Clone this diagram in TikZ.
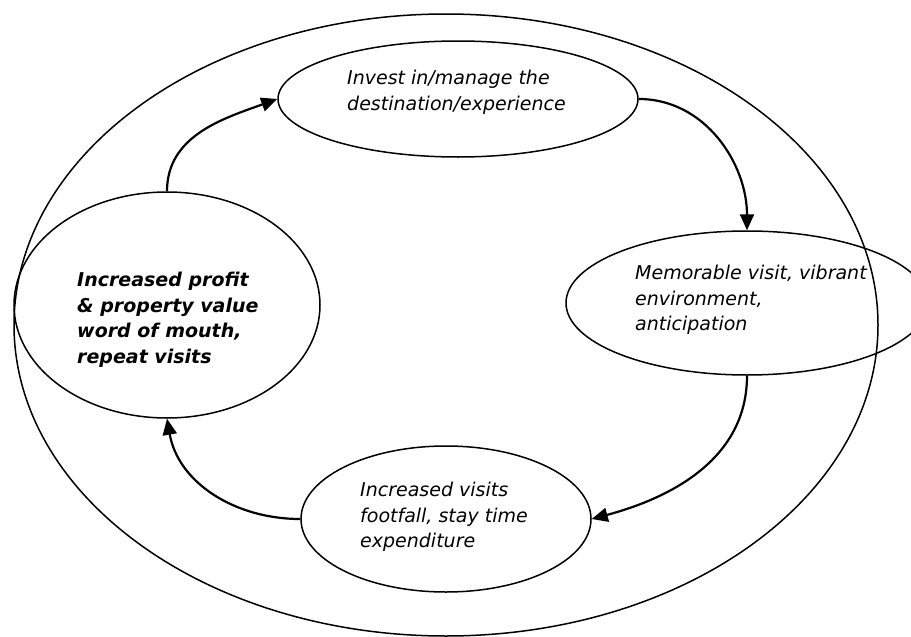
\documentclass[tikz,border=0pt]{standalone}
\usepackage{fontspec}
\setmainfont{DejaVu Sans}
\usetikzlibrary{shapes.geometric,arrows.meta}
\begin{document}
\begin{tikzpicture}[x=1pt,y=-1pt,
  ring/.style={ellipse,draw,line width=1.5pt,inner sep=0pt},
  label/.style={anchor=north west,inner sep=0pt,align=left,
    font=\fontsize{19}{25.5}\selectfont\itshape},
  flow/.style={line width=2.2pt,-{Triangle[length=16pt,width=14pt]}}]
  \useasboundingbox (0,0) rectangle (911,637);
  \clip (0,0) rectangle (911,637);
  % outer boundary
  \node[ring,minimum width=864pt,minimum height=622pt] (O) at (446,325) {};
  % the four stages of the cycle
  \node[ring,minimum width=360pt,minimum height=116pt] (T) at (458,99) {};
  \node[ring,minimum width=362pt,minimum height=144pt] (R) at (747,303) {};
  \node[ring,minimum width=290pt,minimum height=146pt] (B) at (446,519) {};
  \node[ring,minimum width=306pt,minimum height=226pt] (L) at (167,305) {};
  % texts
  \node[label] (tT) at (347,70) {Invest in/manage the\\destination/experience};
  \node[label] (tR) at (635,265) {Memorable visit, vibrant\\environment,\\anticipation};
  \node[label] (tB) at (360,482) {Increased visits\\footfall, stay time\\expenditure};
  \node[label,font=\fontsize{19}{25.5}\selectfont\bfseries\itshape] (tL) at (77,272)
    {Increased profit\\\& property value\\word of mouth,\\repeat visits};
  % connectors
  \draw[flow] (L.north) to[out=90,in=200] (T.west);
  \draw[flow] (T.east) to[out=0,in=90] (R.north);
  \draw[flow] (R.south) to[out=-90,in=15] (B.east);
  \draw[flow] (B.west) to[out=180,in=-80] (L.south);
\end{tikzpicture}
\end{document}
